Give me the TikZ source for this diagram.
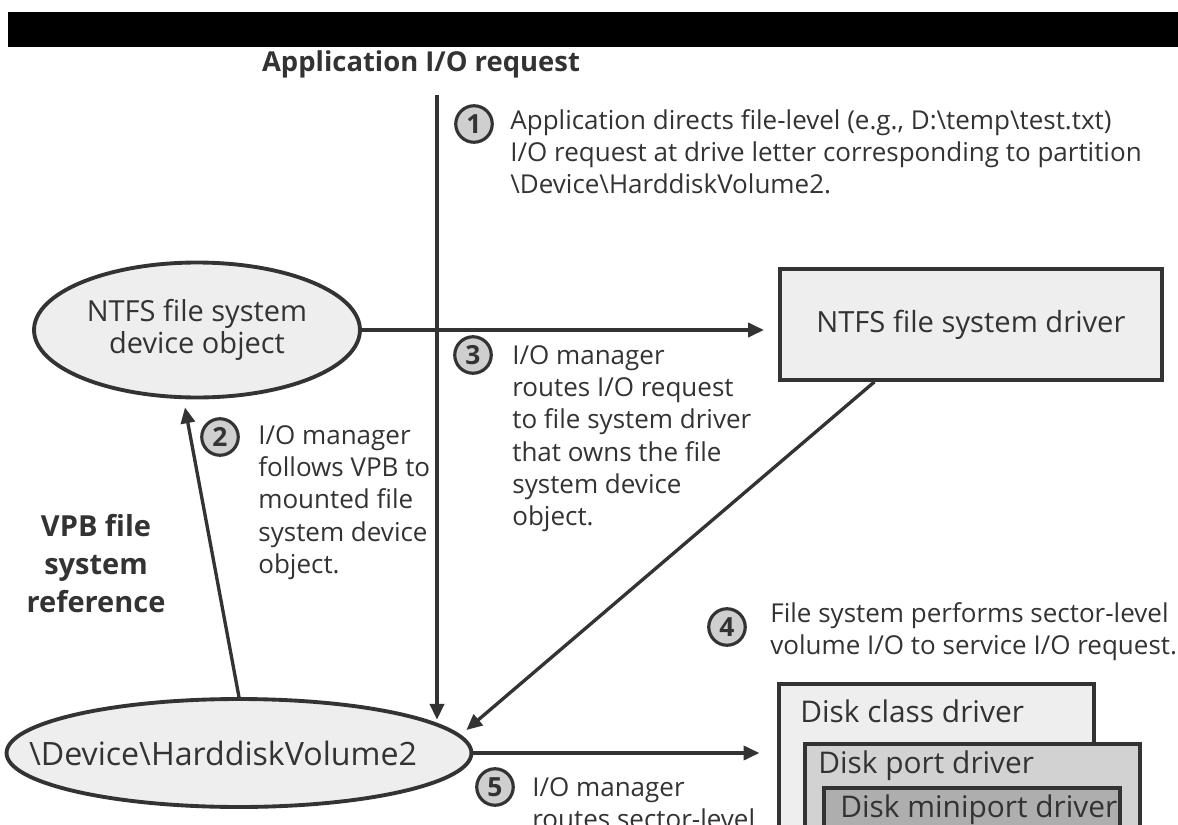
\documentclass[tikz,border=0pt]{standalone}
\usepackage{fontspec}
\setmainfont{Open Sans}
\usepackage{tikz}
\usetikzlibrary{shapes.geometric, arrows.meta, calc}
\definecolor{ink}{HTML}{333333}
\definecolor{lightfill}{HTML}{EEEEEE}
\definecolor{midfill}{HTML}{D2D2D2}
\definecolor{darkfill}{HTML}{AEAEAE}
\definecolor{numfill}{HTML}{CFCFCF}

\begin{document}
\begin{tikzpicture}[x=0.02cm, y=-0.02cm,
    every node/.style={text=ink},
    arr/.style={draw=ink, line width=1.9pt, -{Triangle[length=9pt, width=8pt]}},
    dev/.style={draw=ink, line width=2.2pt, fill=lightfill, ellipse, inner sep=0pt,
                align=center, font=\fontsize{16.5}{18.5}\selectfont},
    drvbox/.style={draw=ink, line width=2.2pt, rectangle, inner sep=0pt, anchor=north west},
    boxtxt/.style={anchor=base west, inner sep=0pt, font=\fontsize{17}{20}\selectfont},
    num/.style={draw=ink, line width=1.8pt, circle, fill=numfill, minimum size=0.73cm,
                inner sep=0pt, font=\bfseries\fontsize{15}{15}\selectfont},
    note/.style={anchor=north west, inner sep=0pt, align=left, font=\fontsize{14.8}{18.4}\selectfont},
    head/.style={inner sep=0pt, font=\bfseries\fontsize{15.6}{21}\selectfont}]

    \useasboundingbox (0,0) rectangle (1178,825);
    \clip (0,0) rectangle (1178,825);
    \fill[white] (0,0) rectangle (1178,825);
    \fill[black] (8,12) rectangle (1178,47);

    \node[head, anchor=base] (title) at (421,71) {Application I/O request};
    \coordinate (appreq) at (437,95);

    \node[dev, minimum width=6.52cm, minimum height=2.7cm] (ntfs) at (197,330) {NTFS file system\\device object};
    \node[dev, minimum width=9.3cm, minimum height=2.16cm] (vol) at (239,753) {};
    \node[inner sep=0pt, font=\fontsize{18.3}{20}\selectfont] (voltxt) at ($(vol.center)+(-16,0)$) {\textbackslash Device\textbackslash HarddiskVolume2};
    \node[drvbox, fill=lightfill, minimum width=7.64cm, minimum height=2.22cm,
          font=\fontsize{16.6}{19}\selectfont] (drv) at (778,267) {NTFS file system driver};

    \node[drvbox, fill=lightfill, minimum width=6.3cm, minimum height=3.6cm] (class) at (777,682) {};
    \node[drvbox, fill=midfill, minimum width=6.7cm, minimum height=2.4cm] (port) at (803,742) {};
    \node[drvbox, fill=darkfill, minimum width=5.92cm, minimum height=1.6cm] (mini) at (822,786) {};
    \node[boxtxt] (classtxt) at (800,722) {Disk class driver};
    \node[boxtxt] (porttxt) at (818,773) {Disk port driver};
    \node[boxtxt] (minitxt) at (840,817) {Disk miniport driver};

    \draw[arr] (appreq) -- (appreq |- vol.10);
    \draw[arr] (vol.north) -- ($(ntfs.south)+(-12,8)$);
    \draw[arr, shorten >=8] (ntfs.east) -- (ntfs.east -| drv.west);
    \draw[arr] ($(drv.south west)!0.25!(drv.south east)$) -- ($(vol.east)+(-7,-23)$);
    \draw[arr, shorten >=10] (vol.east) -- (vol.east -| class.west);

    \node[num] (n1) at (474,124) {1};
    \node[note] (t1) at (510,109) {Application directs file-level (e.g., D:\textbackslash temp\textbackslash test.txt)\\
        I/O request at drive letter corresponding to partition\\
        \textbackslash Device\textbackslash HarddiskVolume2.};
    \node[num] (n2) at (220,437) {2};
    \node[note] (t2) at (258,425) {I/O manager\\follows VPB to\\mounted file\\system device\\object.};
    \node[num] (n3) at (473,355) {3};
    \node[note] (t3) at (512,345) {I/O manager\\routes I/O request\\to file system driver\\that owns the file\\system device\\object.};
    \node[num] (n4) at (727,627) {4};
    \node[note] (t4) at (770,602) {File system performs sector-level\\volume I/O to service I/O request.};
    \node[num] (n5) at (495,787) {5};
    \node[note] (t5) at (532,777) {I/O manager\\routes sector-level};

    \node[head, anchor=north, align=center, font=\bfseries\fontsize{16.5}{21.5}\selectfont] (vpb) at (96,514) {VPB file\\system\\reference};
\end{tikzpicture}
\end{document}
